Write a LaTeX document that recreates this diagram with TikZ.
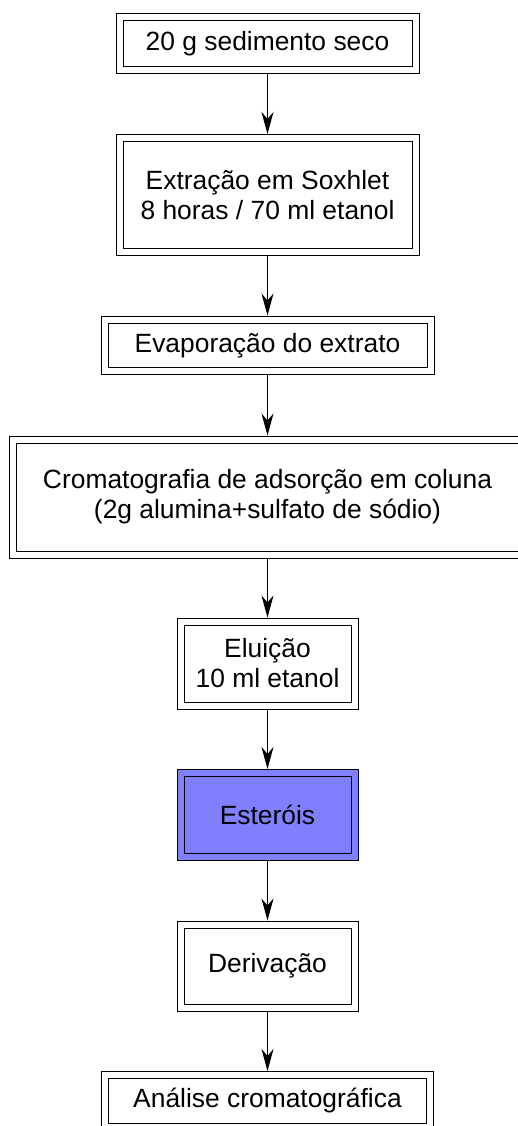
\documentclass[tikz,border=0pt]{standalone}
\usepackage{fontspec}
\setmainfont{Liberation Sans}
\usetikzlibrary{arrows.meta}
\definecolor{stepblue}{RGB}{128,128,255}
\tikzset{
  stepbox/.style={draw=black, line width=1pt, double=white, double distance=6pt,
    rectangle, inner sep=0pt, outer sep=4pt, align=center,
    font=\fontsize{26.4}{30}\selectfont},
  arr/.style={draw=black, line width=1pt, -{Stealth[length=22pt,width=12pt,inset=7pt]}}
}
\begin{document}
\begin{tikzpicture}[x=1pt,y=-1pt]
\useasboundingbox (0,0) rectangle (517,1126);
\node[stepbox, minimum width=296pt, minimum height=53.5pt] (n1) at (267.5,43.75) {20 g sedimento seco};
\node[stepbox, minimum width=296pt, minimum height=113.5pt] (n2) at (267.5,194.75) {Extração em Soxhlet\\8 horas / 70 ml etanol};
\node[stepbox, minimum width=326pt, minimum height=51.5pt] (n3) at (267.5,345.25) {Evaporação do extrato};
\node[stepbox, minimum width=509pt, minimum height=115pt] (n4) at (267.5,497) {Cromatografia de adsorção em coluna\\(2g alumina+sulfato de sódio)};
\node[stepbox, minimum width=174pt, minimum height=84pt] (n5) at (267.5,663.5) {Eluição\\10 ml etanol};
\node[stepbox, fill=stepblue, double=stepblue, minimum width=174pt, minimum height=83.5pt] (n6) at (267.5,814.75) {Esteróis};
\node[stepbox, minimum width=174pt, minimum height=83pt] (n7) at (267.5,966) {Derivação};
\node[stepbox, minimum width=325pt, minimum height=52pt] (n8) at (267.5,1101) {Análise cromatográfica};
\draw[arr] (n1) -- (n2);
\draw[arr] (n2) -- (n3);
\draw[arr] (n3) -- (n4);
\draw[arr] (n4) -- (n5);
\draw[arr] (n5) -- (n6);
\draw[arr] (n6) -- (n7);
\draw[arr] (n7) -- (n8);
\end{tikzpicture}
\end{document}
